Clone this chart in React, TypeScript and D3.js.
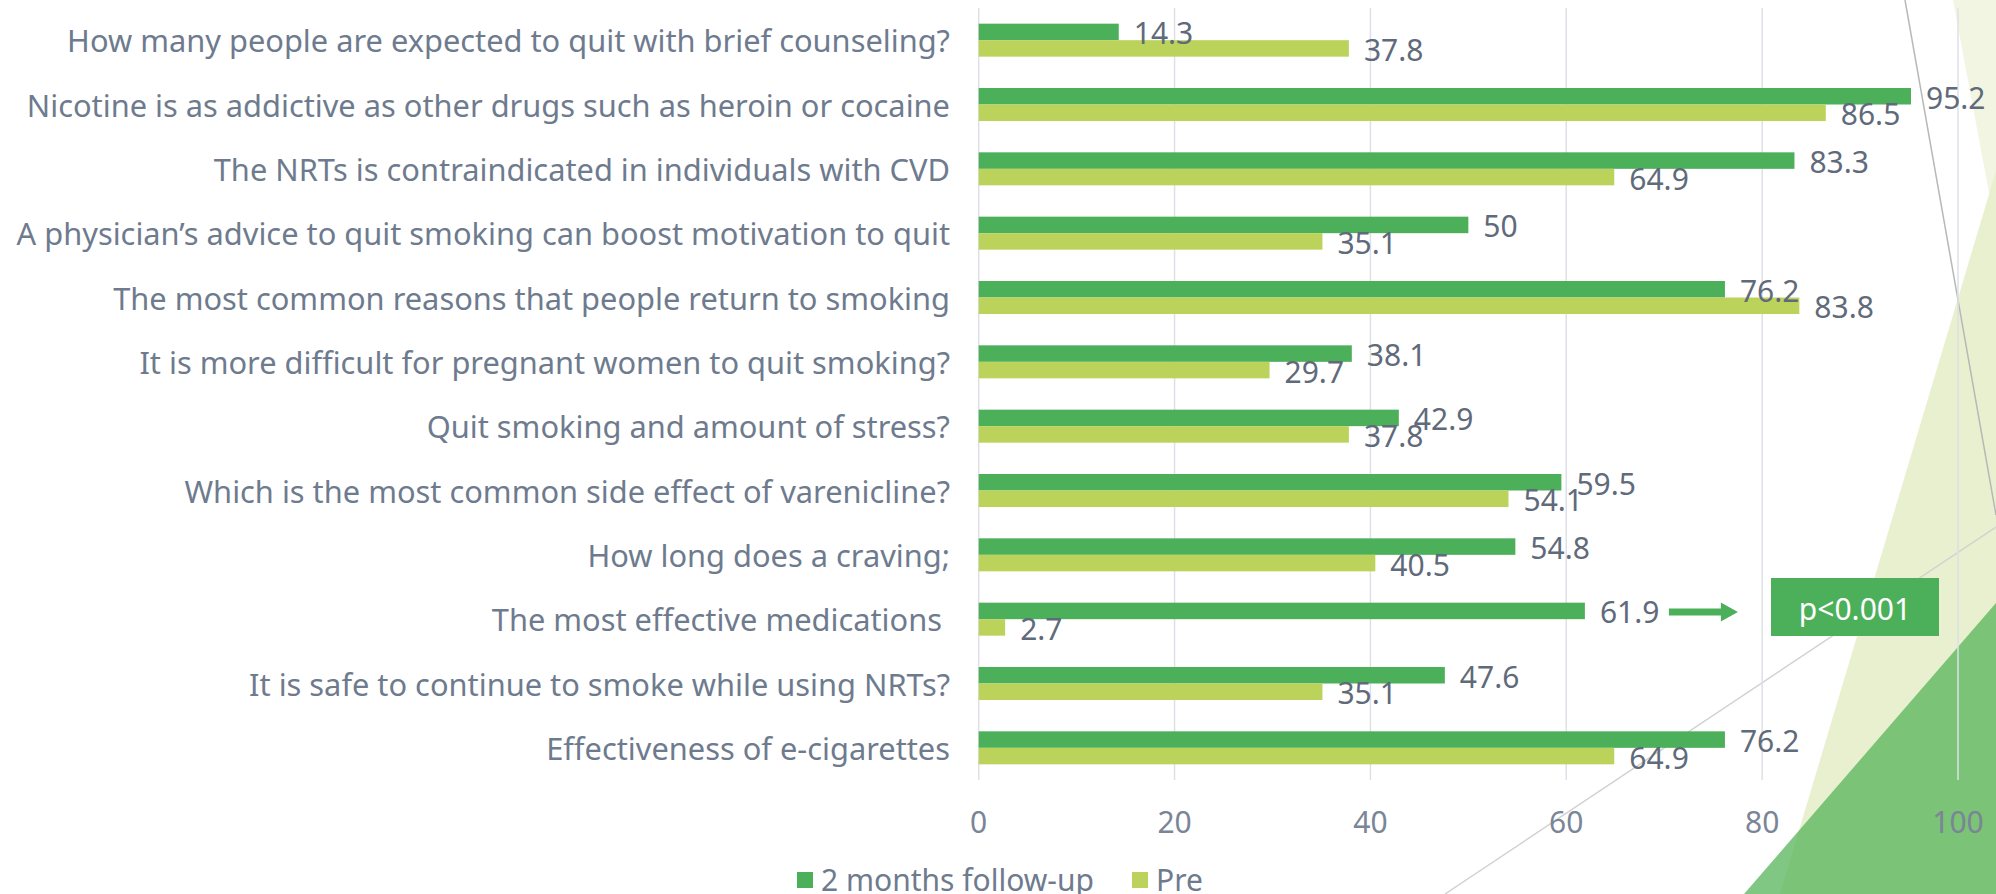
import React from "react";
import * as d3 from "d3";

const categories = [
  "How many people are expected to quit with brief counseling?",
  "Nicotine is as addictive as other drugs such as heroin or cocaine",
  "The NRTs is contraindicated in individuals with CVD",
  "A physician’s advice to quit smoking can boost motivation to quit",
  "The most common reasons that people return to smoking",
  "It is more difficult for pregnant women to quit smoking?",
  "Quit smoking and amount of stress?",
  "Which is the most common side effect of varenicline?",
  "How long does a craving;",
  "The most effective medications ",
  "It is safe to continue to smoke while using NRTs?",
  "Effectiveness of e-cigarettes",
];
const followUp = [14.3, 95.2, 83.3, 50, 76.2, 38.1, 42.9, 59.5, 54.8, 61.9, 47.6, 76.2];
const pre = [37.8, 86.5, 64.9, 35.1, 83.8, 29.7, 37.8, 54.1, 40.5, 2.7, 35.1, 64.9];
const xTicks = [0, 20, 40, 60, 80, 100];
const seriesNames = ["2 months follow-up", "Pre"];
const annotation = "p<0.001";
const annotatedIndex = 9;

const W = 1996;
const H = 894;
const FONT = "'Noto Sans', sans-serif";
const DARK = "#4caf5a";
const LIGHT = "#bbd35a";
const TEXT = "#6e7b8e";
const VAL = "#5f6a7a";

export default function App() {
  const x = d3.scaleLinear().domain([0, 100]).range([978.7, 1958]);
  const y = d3.scaleBand<string>().domain(categories).range([8, 780]);
  const barH = 16.5;

  const center = (c: string) => (y(c) as number) + y.bandwidth() / 2;

  const ann = categories[annotatedIndex];
  const annY = center(ann) - barH / 2 + 1;
  const arrowX0 = x(followUp[annotatedIndex]) + 84;
  const arrowX1 = arrowX0 + 69;
  const headLen = 17;
  const arrowPath = `M${arrowX0},${annY - 3.5} L${arrowX1 - headLen},${annY - 3.5} L${arrowX1 - headLen},${annY - 9.5} L${arrowX1},${annY} L${arrowX1 - headLen},${annY + 9.5} L${arrowX1 - headLen},${annY + 3.5} L${arrowX0},${annY + 3.5} Z`;

  return (
    <svg
      width={W}
      height={H}
      style={{ position: "absolute", left: 0, top: 0, background: "#fff" }}
      fontFamily={FONT}
    >
      {/* background decoration */}
      <polygon points="1953,0 1996,0 1996,230" fill="#f1f5e1" />
      <polygon points="1780,894 1996,171 1996,894" fill="#e9f0cf" />
      <polygon points="1744,894 1996,603 1996,894" fill="#4caf50" fillOpacity={0.7} />
      <line x1={1905} y1={0} x2={1996} y2={515} stroke="#b8b8b8" strokeWidth={1.5} />
      <line x1={1445} y1={894} x2={1996} y2={527} stroke="#d2d2d2" strokeWidth={1.5} />

      {/* gridlines */}
      {xTicks.map((t) => (
        <line
          key={"g" + t}
          x1={x(t)}
          x2={x(t)}
          y1={8}
          y2={780}
          stroke="#dde0e6"
          strokeWidth={1.5}
        />
      ))}

      {/* bars */}
      {categories.map((c, i) => {
        const cy = center(c);
        return (
          <g key={"b" + i}>
            <rect x={x(0)} y={cy - barH} width={x(followUp[i]) - x(0)} height={barH} fill={DARK} />
            <rect x={x(0)} y={cy} width={x(pre[i]) - x(0)} height={barH} fill={LIGHT} />
          </g>
        );
      })}

      {/* value labels */}
      {categories.map((c, i) => {
        const cy = center(c);
        return (
          <g key={"v" + i} fontSize={30} fill={VAL} dominantBaseline="central">
            <text x={x(followUp[i]) + 15} y={cy - barH / 2 + 1}>
              {followUp[i]}
            </text>
            <text x={x(pre[i]) + 15} y={cy + barH / 2 + 1}>
              {pre[i]}
            </text>
          </g>
        );
      })}

      {/* category labels */}
      {categories.map((c, i) => (
        <text
          key={"c" + i}
          x={950}
          y={center(c)}
          textAnchor="end"
          dominantBaseline="central"
          fontSize={30.8}
          fill={TEXT}
          style={{ whiteSpace: "pre" }}
        >
          {c}
        </text>
      ))}

      {/* x tick labels */}
      {xTicks.map((t) => (
        <text
          key={"t" + t}
          x={x(t)}
          y={821}
          textAnchor="middle"
          dominantBaseline="central"
          fontSize={30}
          fill="#7a8597"
        >
          {t}
        </text>
      ))}

      {/* annotation */}
      <path d={arrowPath} fill={DARK} />
      <rect x={1771} y={578} width={168} height={58} fill={DARK} />
      <text x={1855} y={608} textAnchor="middle" dominantBaseline="central" fontSize={30} fill="#fff">
        {annotation}
      </text>

      {/* legend */}
      <rect x={797} y={872} width={16} height={16} fill={DARK} />
      <text x={821} y={879} dominantBaseline="central" fontSize={30} fill={TEXT}>
        {seriesNames[0]}
      </text>
      <rect x={1132} y={872} width={16} height={16} fill={LIGHT} />
      <text x={1156} y={879} dominantBaseline="central" fontSize={30} fill={TEXT}>
        {seriesNames[1]}
      </text>
    </svg>
  );
}
